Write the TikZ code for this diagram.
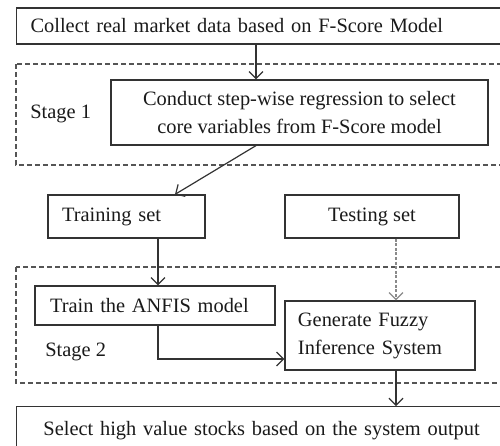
\documentclass[tikz,border=0pt]{standalone}
\usepackage{fontspec}
\setmainfont{Liberation Serif}
\usetikzlibrary{arrows.meta, positioning}
\definecolor{inkdark}{HTML}{1A1A1A}
\definecolor{framegray}{HTML}{333333}
\definecolor{dashgray}{HTML}{555555}
\definecolor{testgray}{HTML}{8A8A8A}

\begin{document}
\begin{tikzpicture}[
  x=0.5pt, y=-0.5pt,
  flowbox/.style={draw=framegray, line width=0.6pt, fill=white, text=inkdark, inner ysep=0pt, font=\fontsize{10.2}{14}\selectfont},
  stagebox/.style={draw=dashgray, line width=0.6pt, dash pattern=on 2.5pt off 1.5pt},
  stagelabel/.style={anchor=west, text=inkdark, inner sep=0pt, font=\fontsize{10.2}{12}\selectfont},
  arrow/.style={-{Straight Barb[length=3.5pt, width=7pt]}, draw=framegray, line width=0.6pt},
  testarrow/.style={arrow, draw=testgray, dash pattern=on 1.5pt off 0.8pt}
]
  \useasboundingbox (0,0) rectangle (500,446);
  \clip (0,0) rectangle (500,446);

  % stage frames
  \draw[stagebox] (16,64) rectangle (530,165);
  \draw[stagebox] (16,267) rectangle (530,383);
  \node[stagelabel] (stage1) at (30,114) {Stage 1};
  \node[stagelabel] (stage2) at (45,352) {Stage 2};

  % boxes
  \node[flowbox, anchor=west, minimum height=18pt, text width=243pt, inner xsep=7pt, align=left] (collect) at (16,26) {Collect real market data based on F-Score Model};
  \node[flowbox, minimum width=188.5pt, minimum height=32.5pt, align=center] (regress) at (299.5,112.5) {Conduct step-wise regression to select\\core variables from F-Score model};
  \node[flowbox, minimum height=21.5pt, text width=64.5pt, inner xsep=7pt, align=left] (trainset) at (126.5,216.5) {Training set};
  \node[flowbox, minimum width=87pt, minimum height=21.5pt, align=center] (testset) at (372,216.5) {Testing set};
  \node[flowbox, minimum height=19.5pt, text width=105pt, inner xsep=7.5pt, align=left] (anfis) at (155,305.5) {Train the ANFIS model};
  \node[flowbox, minimum height=34.5pt, text width=82pt, inner xsep=6.5pt, align=left] (fuzzy) at (380,335.5) {Generate Fuzzy\\Inference System};
  \node[flowbox, anchor=north west, minimum height=24pt, text width=231pt, inner xsep=7pt, align=center] (select) at (16,406) {Select high value stocks based on the system output};

  % connector columns
  \coordinate (colA) at (256,0);
  \coordinate (colB) at (175,0);
  \coordinate (colC) at (158,0);
  \coordinate (colD) at (396,0);
  \coordinate (rowA) at (0,359);

  % connectors
  \draw[arrow] (collect.south -| colA) -- (regress.north -| colA);
  \draw[arrow] (regress.south -| colA) -- (trainset.north -| colB);
  \draw[arrow] (trainset.south -| colC) -- (anfis.north -| colC);
  \draw[testarrow] (testset.south -| colD) -- (fuzzy.north -| colD);
  \draw[arrow] (anfis.south -| colC) |- (fuzzy.west |- rowA);
  \draw[arrow] (fuzzy.south -| colD) -- (select.north -| colD);
\end{tikzpicture}
\end{document}
